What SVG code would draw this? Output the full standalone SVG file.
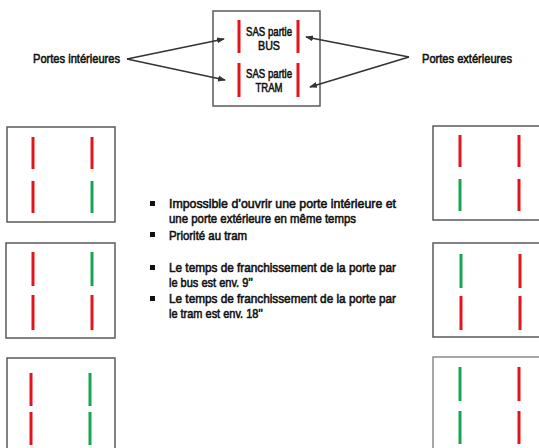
<svg xmlns="http://www.w3.org/2000/svg" width="539" height="448" viewBox="0 0 539 448">
<style>
.box{fill:#fff;stroke:#5a5a5a;stroke-width:1.5}
.r{stroke:#e3141c;stroke-width:3}
.g{stroke:#18a552;stroke-width:3}
.t{font-family:"Liberation Sans",Arial,sans-serif;font-size:13.5px;fill:#111;stroke:#111;stroke-width:0.6}
.c{text-anchor:middle}
.ar{stroke:#333;stroke-width:1.6;fill:none;marker-end:url(#ah)}
.bul{fill:#111}
</style>
<defs>
<marker id="ah" markerWidth="8" markerHeight="8" refX="7" refY="4" orient="auto" markerUnits="userSpaceOnUse">
<path d="M0,1 L8,4 L0,7 Z" fill="#333"/>
</marker>
</defs>
<rect width="539" height="448" fill="#fff"/>
<g id="sas">
<rect class="box" x="213" y="11" width="107" height="95"/>
<line class="r" x1="239" y1="20" x2="239" y2="53"/>
<line class="r" x1="239" y1="63" x2="239" y2="97"/>
<line class="r" x1="298" y1="20" x2="298" y2="53"/>
<line class="r" x1="298" y1="63" x2="298" y2="97"/>
<text class="t c" x="269" y="36" textLength="46" lengthAdjust="spacingAndGlyphs">SAS partie</text>
<text class="t c" x="269" y="50" textLength="22" lengthAdjust="spacingAndGlyphs">BUS</text>
<text class="t c" x="269" y="78" textLength="46" lengthAdjust="spacingAndGlyphs">SAS partie</text>
<text class="t c" x="269" y="92" textLength="27" lengthAdjust="spacingAndGlyphs">TRAM</text>
</g>
<g id="label-int"><text class="t" x="33" y="63" textLength="87" lengthAdjust="spacingAndGlyphs">Portes intérieures</text></g>
<g id="label-ext"><text class="t" x="422" y="63" textLength="90" lengthAdjust="spacingAndGlyphs">Portes extérieures</text></g>
<g id="connectors">
<line class="ar" x1="127" y1="59" x2="224" y2="39"/>
<line class="ar" x1="127" y1="59" x2="225" y2="80"/>
<line class="ar" x1="409" y1="57" x2="306" y2="37"/>
<line class="ar" x1="409" y1="57" x2="310" y2="87"/>
</g>
<g id="left1">
<rect class="box" x="7" y="127" width="108" height="95"/>
<line class="r" x1="33" y1="137" x2="33" y2="169"/>
<line class="r" x1="33" y1="181" x2="33" y2="213"/>
<line class="r" x1="92" y1="137" x2="92" y2="169"/>
<line class="g" x1="92" y1="181" x2="92" y2="213"/>
</g>
<g id="left2">
<rect class="box" x="6" y="243" width="109" height="95"/>
<line class="r" x1="33" y1="252" x2="33" y2="286"/>
<line class="r" x1="33" y1="295" x2="33" y2="330"/>
<line class="g" x1="92" y1="252" x2="92" y2="286"/>
<line class="r" x1="92" y1="295" x2="92" y2="330"/>
</g>
<g id="left3">
<rect class="box" x="7" y="358" width="108" height="100"/>
<line class="r" x1="31" y1="373" x2="31" y2="406"/>
<line class="r" x1="31" y1="412" x2="31" y2="445"/>
<line class="g" x1="90" y1="373" x2="90" y2="406"/>
<line class="g" x1="90" y1="412" x2="90" y2="445"/>
</g>
<g id="right1">
<rect class="box" x="433" y="126" width="120" height="94"/>
<line class="r" x1="460" y1="135" x2="460" y2="167"/>
<line class="g" x1="460" y1="179" x2="460" y2="211"/>
<line class="r" x1="519" y1="135" x2="519" y2="167"/>
<line class="r" x1="519" y1="179" x2="519" y2="211"/>
</g>
<g id="right2">
<rect class="box" x="433" y="243" width="120" height="94"/>
<line class="g" x1="461" y1="254" x2="461" y2="288"/>
<line class="r" x1="461" y1="296" x2="461" y2="330"/>
<line class="r" x1="520" y1="254" x2="520" y2="288"/>
<line class="r" x1="520" y1="296" x2="520" y2="330"/>
</g>
<g id="right3">
<rect class="box" x="433" y="357" width="120" height="100" style="stroke:#8a8a8a"/>
<line class="g" x1="460" y1="367" x2="460" y2="401"/>
<line class="g" x1="460" y1="411" x2="460" y2="444"/>
<line class="r" x1="519" y1="367" x2="519" y2="401"/>
<line class="r" x1="519" y1="411" x2="519" y2="444"/>
</g>
<g id="notes">
<rect class="bul" x="150" y="201" width="5" height="5"/>
<rect class="bul" x="150" y="232" width="5" height="5"/>
<rect class="bul" x="150" y="265" width="5" height="5"/>
<rect class="bul" x="150" y="296" width="5" height="5"/>
<text class="t" x="169" y="208" textLength="227" lengthAdjust="spacingAndGlyphs">Impossible d’ouvrir une porte intérieure et</text>
<text class="t" x="169" y="223" textLength="187" lengthAdjust="spacingAndGlyphs">une porte extérieure en même temps</text>
<text class="t" x="169" y="240" textLength="78" lengthAdjust="spacingAndGlyphs">Priorité au tram</text>
<text class="t" x="169" y="272" textLength="227" lengthAdjust="spacingAndGlyphs">Le temps de franchissement de la porte par</text>
<text class="t" x="169" y="287" textLength="84" lengthAdjust="spacingAndGlyphs">le bus est env. 9’’</text>
<text class="t" x="169" y="303" textLength="227" lengthAdjust="spacingAndGlyphs">Le temps de franchissement de la porte par</text>
<text class="t" x="169" y="318" textLength="94" lengthAdjust="spacingAndGlyphs">le tram est env. 18’’</text>
</g>
</svg>
